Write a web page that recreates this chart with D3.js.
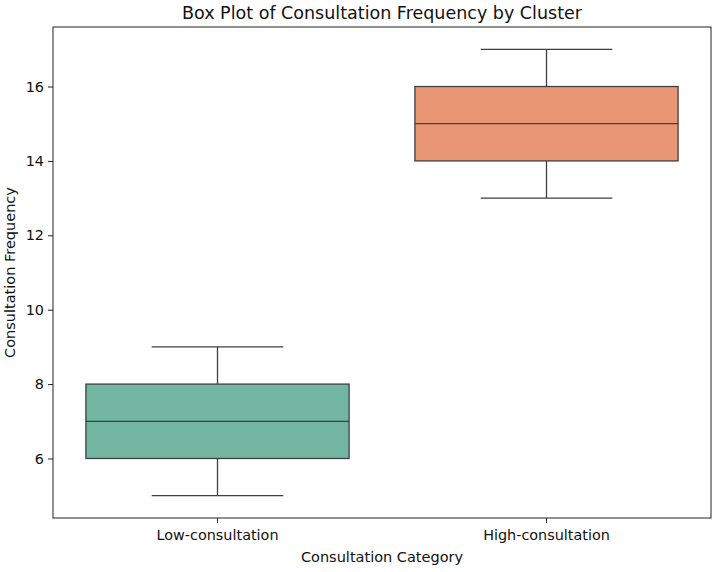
<!DOCTYPE html>
<html><head><meta charset="utf-8">
<script src="https://cdn.jsdelivr.net/npm/d3@7"></script>
<style>body{margin:0;background:#fff;}svg{display:block;font-family:"DejaVu Sans",sans-serif;}</style>
</head><body><svg id="c" width="716" height="572"></svg>
<script>
const categories = ["Low-consultation", "High-consultation"];
const whiskerLow = [5, 13];
const q1 = [6, 14];
const median = [7, 15];
const q3 = [8, 16];
const whiskerHigh = [9, 17];
const colors = ["#72b6a1", "#e99675"];
const yTicks = [6, 8, 10, 12, 14, 16];

const m = {left: 53, right: 711, top: 27, bottom: 518};
const svg = d3.select("#c");
const x = d3.scaleBand().domain(categories).range([m.left, m.right]).paddingInner(0.2).paddingOuter(0.1);
const y = d3.scaleLinear().domain([4.4, 17.6]).range([m.bottom, m.top]);
const stroke = "#3f3f3f";

const data = categories.map((c, i) => ({c, lo: whiskerLow[i], q1: q1[i], med: median[i], q3: q3[i], hi: whiskerHigh[i], col: colors[i]}));
const g = svg.append("g");
data.forEach(d => {
  const cx = x(d.c) + x.bandwidth() / 2;
  const bw = x.bandwidth();
  const cap = bw / 4;
  g.append("line").attr("x1", cx).attr("x2", cx).attr("y1", y(d.lo)).attr("y2", y(d.q1)).attr("stroke", stroke).attr("stroke-width", 1.3);
  g.append("line").attr("x1", cx).attr("x2", cx).attr("y1", y(d.hi)).attr("y2", y(d.q3)).attr("stroke", stroke).attr("stroke-width", 1.3);
  g.append("line").attr("x1", cx - cap).attr("x2", cx + cap).attr("y1", y(d.lo)).attr("y2", y(d.lo)).attr("stroke", stroke).attr("stroke-width", 1.3);
  g.append("line").attr("x1", cx - cap).attr("x2", cx + cap).attr("y1", y(d.hi)).attr("y2", y(d.hi)).attr("stroke", stroke).attr("stroke-width", 1.3);
  g.append("rect").attr("x", x(d.c)).attr("width", bw).attr("y", y(d.q3)).attr("height", y(d.q1) - y(d.q3)).attr("fill", d.col).attr("stroke", stroke).attr("stroke-width", 1.3);
  g.append("line").attr("x1", x(d.c)).attr("x2", x(d.c) + bw).attr("y1", y(d.med)).attr("y2", y(d.med)).attr("stroke", stroke).attr("stroke-width", 1.3);
});

svg.append("rect").attr("x", m.left).attr("y", m.top).attr("width", m.right - m.left).attr("height", m.bottom - m.top).attr("fill", "none").attr("stroke", "#222").attr("stroke-width", 1);

const ya = svg.append("g").attr("transform", `translate(${m.left},0)`).call(d3.axisLeft(y).tickValues(yTicks).tickSize(5).tickPadding(4).tickFormat(d3.format("d")));
const xa = svg.append("g").attr("transform", `translate(0,${m.bottom})`).call(d3.axisBottom(x).tickSize(5).tickPadding(7));
[ya, xa].forEach(a => { a.select(".domain").remove(); a.selectAll("text").attr("font-size", 14.4).attr("fill", "#111").attr("font-family", "DejaVu Sans"); a.selectAll("line").attr("stroke", "#222"); });

svg.append("text").attr("x", (m.left + m.right) / 2).attr("y", 19).attr("text-anchor", "middle").attr("font-size", 17.5).attr("fill", "#111").text("Box Plot of Consultation Frequency by Cluster");
svg.append("text").attr("x", (m.left + m.right) / 2).attr("y", 562).attr("text-anchor", "middle").attr("font-size", 14.5).attr("fill", "#111").text("Consultation Category");
svg.append("text").attr("transform", `translate(15,${(m.top + m.bottom) / 2}) rotate(-90)`).attr("text-anchor", "middle").attr("font-size", 14.5).attr("fill", "#111").text("Consultation Frequency");
</script></body></html>
